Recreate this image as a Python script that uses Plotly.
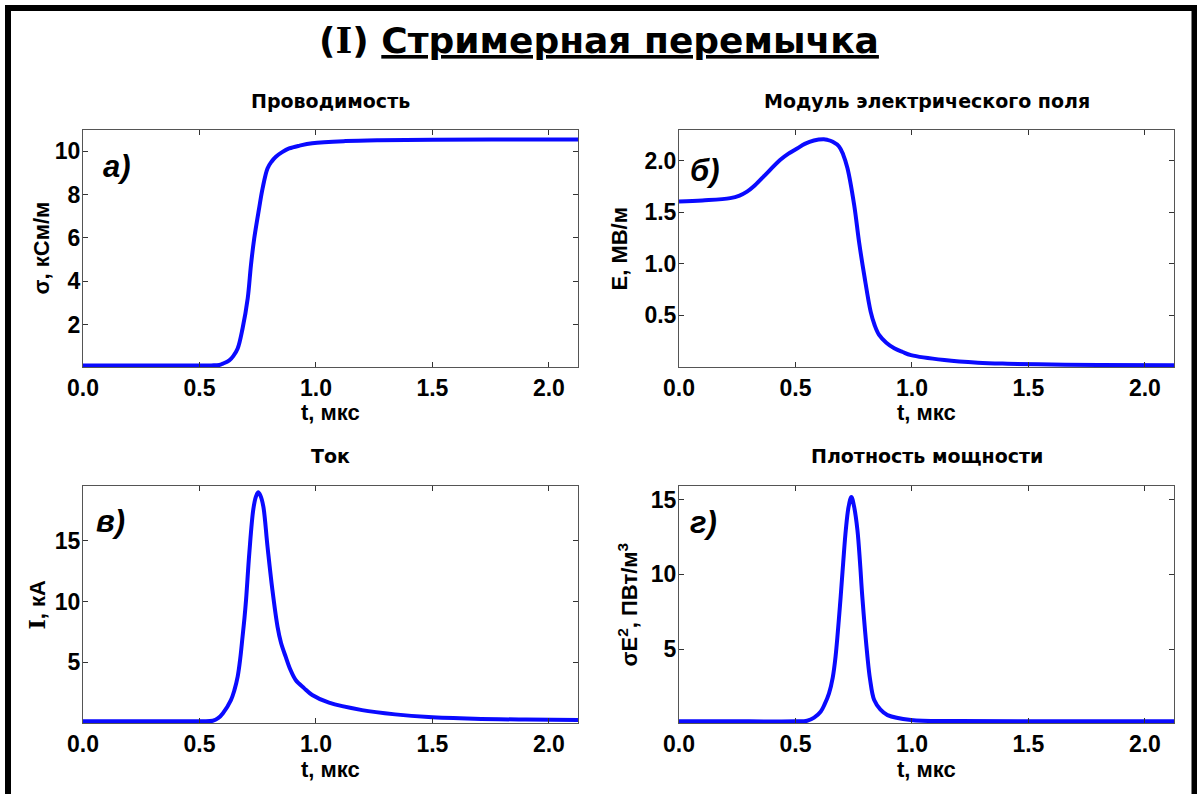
import plotly.graph_objects as go

W, H = 1197, 794

# ---------------- data ----------------
t_sigma = [0.0, 0.3, 0.55, 0.585, 0.60, 0.628, 0.645, 0.664, 0.685, 0.707, 0.721, 0.735,
           0.756, 0.771, 0.792, 0.81, 0.828, 0.855, 0.885, 0.93, 0.984, 1.127, 1.27,
           1.5, 1.8, 2.13]
sigma = [0.12, 0.12, 0.12, 0.14, 0.2, 0.35, 0.55, 0.90, 1.82, 3.20, 4.74, 5.97,
         7.36, 8.28, 9.20, 9.52, 9.74, 9.95, 10.12, 10.25, 10.36, 10.46, 10.50,
         10.52, 10.53, 10.53]

t_E = [0.0, 0.1, 0.22, 0.26, 0.292, 0.32, 0.363, 0.435, 0.47, 0.507, 0.54, 0.579,
       0.622, 0.637, 0.66, 0.687, 0.705, 0.723, 0.752, 0.773, 0.795, 0.823, 0.84,
       0.859, 0.89, 0.924, 0.96, 0.996, 1.139, 1.283, 1.41, 1.6, 1.8, 2.13]
E = [1.604, 1.615, 1.637, 1.662, 1.70, 1.75, 1.847, 2.01, 2.07, 2.12, 2.165, 2.198,
     2.21, 2.204, 2.185, 2.14, 2.06, 1.93, 1.57, 1.21, 0.89, 0.53, 0.40,
     0.306, 0.23, 0.176, 0.14, 0.11, 0.062, 0.036, 0.026, 0.018, 0.014, 0.012]

t_I = [0.0, 0.3, 0.5, 0.557, 0.58, 0.6, 0.635, 0.65, 0.664, 0.675, 0.685, 0.693, 0.70,
       0.714, 0.731, 0.742, 0.752, 0.762, 0.774, 0.792, 0.813, 0.835, 0.85, 0.87,
       0.89, 0.913, 0.95, 0.984, 1.056, 1.198, 1.34, 1.483, 1.68, 1.9, 2.13]
I = [0.15, 0.15, 0.15, 0.19, 0.4, 0.79, 1.89, 2.7, 3.81, 5.3, 7.11, 8.6, 10.14,
     13.99, 17.56, 18.6, 18.98, 18.7, 17.83, 14.53, 10.96, 7.93, 6.6, 5.46,
     4.4, 3.54, 2.85, 2.30, 1.67, 1.06, 0.71, 0.49, 0.35, 0.28, 0.24]

t_P = [0.0, 0.3, 0.5, 0.55, 0.58, 0.608, 0.625, 0.644, 0.66, 0.672, 0.694, 0.705,
       0.716, 0.728, 0.74, 0.752, 0.766, 0.777, 0.787, 0.809, 0.82, 0.838, 0.865,
       0.895, 0.996, 1.2, 1.6, 2.13]
P = [0.17, 0.17, 0.17, 0.21, 0.42, 0.81, 1.3, 2.04, 3.1, 4.49, 8.49, 10.8,
     12.95, 14.5, 15.17, 14.5, 12.95, 10.8, 8.49, 4.49, 3.0, 1.59, 0.95,
     0.59, 0.26, 0.19, 0.17, 0.17]

x_ticks = [0.0, 0.5, 1.0, 1.5, 2.0]
y_ticks_sigma = [2, 4, 6, 8, 10]
y_ticks_E = [0.5, 1.0, 1.5, 2.0]
y_ticks_I = [5, 10, 15]
y_ticks_P = [5, 10, 15]

SERIF_I = "<span style=\"font-family:'DejaVu Serif';font-weight:bold\">I</span>"
main_title = "(" + SERIF_I + ") <u>Стримерная перемычка</u>"
panel_titles = ["Проводимость", "Модуль электрического поля", "Ток", "Плотность мощности"]
x_label = "t, мкс"
y_labels = ["σ, кСм/м", "E, МВ/м", SERIF_I + ", кА", "σE<sup>2</sup>, ПВт/м<sup>3</sup>"]
panel_letters = ["а)", "б)", "в)", "г)"]

# ---------------- figure ----------------
LINE = dict(color="rgb(10,10,255)", width=4, shape="spline", smoothing=1.0)
fig = go.Figure()
series = [(t_sigma, sigma), (t_E, E), (t_I, I), (t_P, P)]
for k, (tx, ty) in enumerate(series):
    ax = "" if k == 0 else str(k + 1)
    fig.add_trace(go.Scatter(x=tx, y=ty, mode="lines", line=LINE,
                             xaxis="x" + ax, yaxis="y" + ax, showlegend=False,
                             hoverinfo="skip"))

def px_x(p):
    return p / W

def px_y(p):
    return 1 - p / H

# plot boxes in pixels: (left, right, top, bottom)
boxes = [(83, 578, 130, 367), (679, 1174, 130, 367),
         (83, 578, 486, 723), (679, 1174, 486, 723)]
y_ranges = [[0.046, 10.97], [-0.006, 2.30], [0.0, 19.5], [0.06, 15.9]]
y_tickvals = [y_ticks_sigma, y_ticks_E, y_ticks_I, y_ticks_P]
y_formats = [".0f", ".1f", ".0f", ".0f"]

tickfont = dict(family="Liberation Sans, Arial", size=23, color="black", weight="bold")
common = dict(showgrid=False, zeroline=False, showline=True, linecolor="#555",
              linewidth=1, mirror="ticks", ticks="inside", ticklen=5,
              tickcolor="#333", tickwidth=1, tickfont=tickfont, automargin=False)

layout_axes = {}
for k, (l, r, t, b) in enumerate(boxes):
    ax = "" if k == 0 else str(k + 1)
    layout_axes["xaxis" + ax] = dict(common, domain=[px_x(l), px_x(r)],
                                     range=[0, 2.125], tickvals=x_ticks,
                                     tickformat=".1f", anchor="y" + ax)
    layout_axes["yaxis" + ax] = dict(common, domain=[px_y(b), px_y(t)],
                                     range=y_ranges[k], tickvals=y_tickvals[k],
                                     tickformat=y_formats[k], anchor="x" + ax,
                                     ticklabelstandoff=-3)

annotations = []
annotations.append(dict(text="<b>" + main_title + "</b>", x=0.5, y=px_y(40),
                        xref="paper", yref="paper", showarrow=False,
                        xanchor="center", yanchor="middle",
                        font=dict(family="DejaVu Sans", size=36, color="black")))
title_y = [101, 101, 456, 456]
ylab_x = [41, 619, 36, 627]
xlab_y = [412, 412, 769, 769]
letter_pos = [(0.036, 0.844), (0.018, 0.83), (0.022, 0.85), (0.018, 0.846)]
for k, (l, r, t, b) in enumerate(boxes):
    cx = (l + r) / 2
    cy = (t + b) / 2
    annotations.append(dict(text="<b>" + panel_titles[k] + "</b>", x=px_x(cx), y=px_y(title_y[k]),
                            xref="paper", yref="paper", showarrow=False,
                            xanchor="center", yanchor="middle",
                            font=dict(family="DejaVu Sans", size=19, color="black")))
    annotations.append(dict(text="<b>" + x_label + "</b>", x=px_x(cx), y=px_y(xlab_y[k]),
                            xref="paper", yref="paper", showarrow=False,
                            xanchor="center", yanchor="middle",
                            font=dict(family="Liberation Sans, Arial", size=22, color="black")))
    annotations.append(dict(text="<b>" + y_labels[k] + "</b>", x=px_x(ylab_x[k]), y=px_y(cy),
                            xref="paper", yref="paper", showarrow=False, textangle=-90,
                            xanchor="center", yanchor="middle",
                            font=dict(family="Liberation Sans, Arial", size=22, color="black")))
    ax = "x" if k == 0 else "x" + str(k + 1)
    ay = "y" if k == 0 else "y" + str(k + 1)
    annotations.append(dict(text="<b><i>" + panel_letters[k] + "</i></b>",
                            x=letter_pos[k][0], y=letter_pos[k][1],
                            xref=ax + " domain", yref=ay + " domain", showarrow=False,
                            xanchor="left", yanchor="middle",
                            font=dict(family="Liberation Sans, Arial", size=31, color="black")))

shapes = [dict(type="rect", xref="paper", yref="paper",
               x0=px_x(8), x1=px_x(1194.5), y0=-0.05, y1=px_y(8),
               line=dict(color="black", width=6), fillcolor="rgba(0,0,0,0)", layer="above")]

fig.update_layout(width=W, height=H, margin=dict(l=0, r=0, t=0, b=0),
                  paper_bgcolor="white", plot_bgcolor="white", template="none",
                  annotations=annotations, shapes=shapes, **layout_axes)

fig.write_html("out.html", include_plotlyjs=True, config={"displayModeBar": False})
